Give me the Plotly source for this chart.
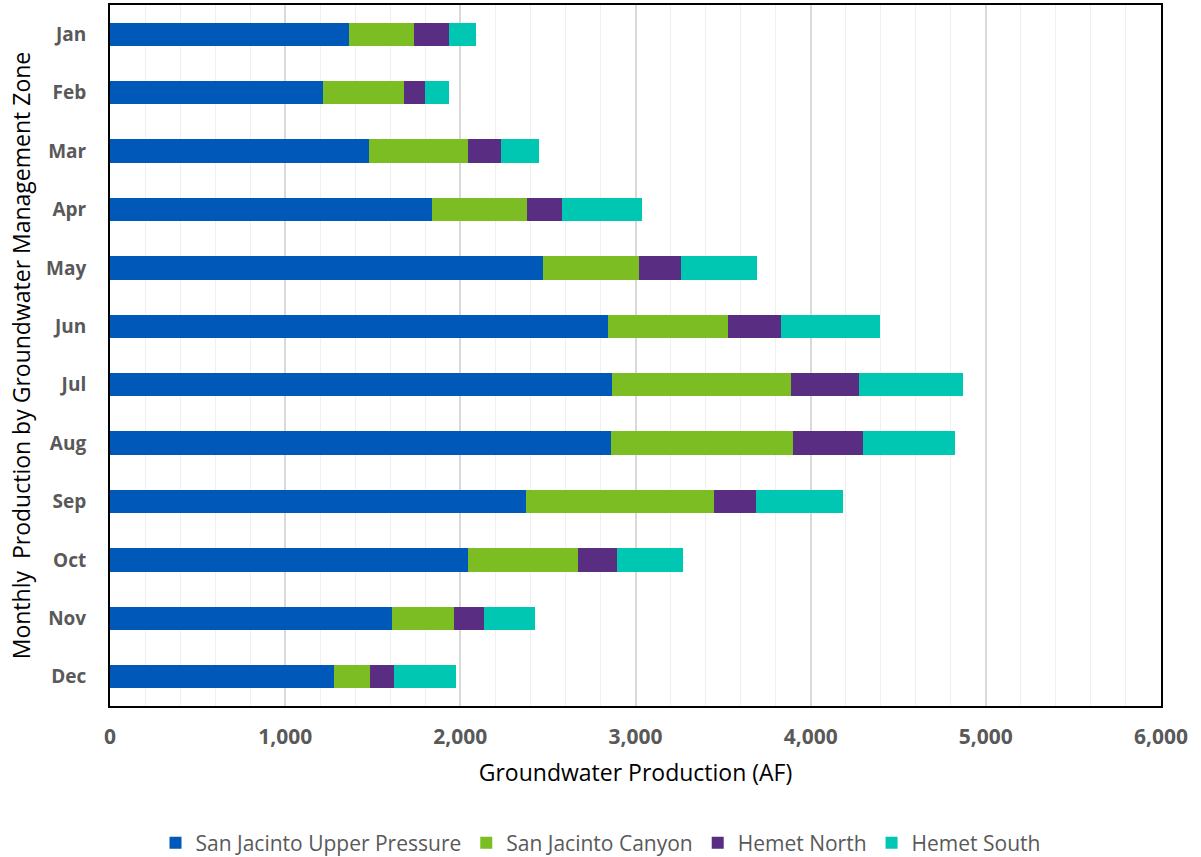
import plotly.graph_objects as go

months = ["Jan", "Feb", "Mar", "Apr", "May", "Jun", "Jul", "Aug", "Sep", "Oct", "Nov", "Dec"]
upper_pressure = [1363, 1216, 1478, 1841, 2471, 2844, 2866, 2862, 2377, 2045, 1609, 1280]
canyon = [371, 460, 566, 538, 550, 686, 1024, 1036, 1072, 629, 354, 204]
hemet_north = [201, 122, 189, 200, 240, 303, 384, 399, 239, 219, 171, 140]
hemet_south = [154, 135, 217, 459, 431, 564, 594, 527, 494, 377, 291, 349]

series = [
    ("San Jacinto Upper Pressure", upper_pressure, "#0058B8"),
    ("San Jacinto Canyon", canyon, "#7BBD22"),
    ("Hemet North", hemet_north, "#582D82"),
    ("Hemet South", hemet_south, "#00C7B2"),
]

fig = go.Figure()
for name, vals, col in series:
    fig.add_trace(go.Bar(
        y=months, x=vals, name=name, orientation="h",
        marker=dict(color=col, line=dict(width=0)),
    ))

fig.update_layout(
    barmode="stack",
    bargap=0.6,
    width=1201, height=857,
    margin=dict(l=110, r=40, t=5, b=151, autoexpand=False),
    plot_bgcolor="white",
    paper_bgcolor="white",
    font=dict(family="Open Sans, sans-serif", color="#595959"),
    legend=dict(
        orientation="h", x=0.5, xanchor="center", xref="container",
        y=14 / 857, yanchor="middle", yref="container",
        font=dict(size=21, color="#595959", family="Open Sans"), traceorder="normal",
        itemwidth=30,
    ),
    xaxis=dict(
        range=[0, 6000], dtick=1000, tickformat=",",
        showgrid=True, gridcolor="#D9D9D9", gridwidth=1.5,
        minor=dict(dtick=200, showgrid=True, gridcolor="#EFEFEF", gridwidth=1),
        tickfont=dict(size=21, color="#595959", family="Open Sans", weight="bold"),
        ticks="outside", ticklen=11, tickcolor="rgba(0,0,0,0)",
        showline=True, linecolor="black", linewidth=2, mirror=True,
        zeroline=False,
        title=dict(text="Groundwater Production (AF)", font=dict(size=23, color="black", family="Open Sans"), standoff=16),
    ),
    yaxis=dict(
        autorange="reversed",
        tickfont=dict(size=19, color="#595959", family="Open Sans", weight="bold"),
        ticks="outside", ticklen=18, tickcolor="rgba(0,0,0,0)",
        showline=True, linecolor="black", linewidth=2, mirror=True,
        title=dict(text="Monthly  Production by Groundwater Management Zone",
                   font=dict(size=23, color="black", family="Open Sans"), standoff=9),
    ),
)

fig.write_html("out.html")
